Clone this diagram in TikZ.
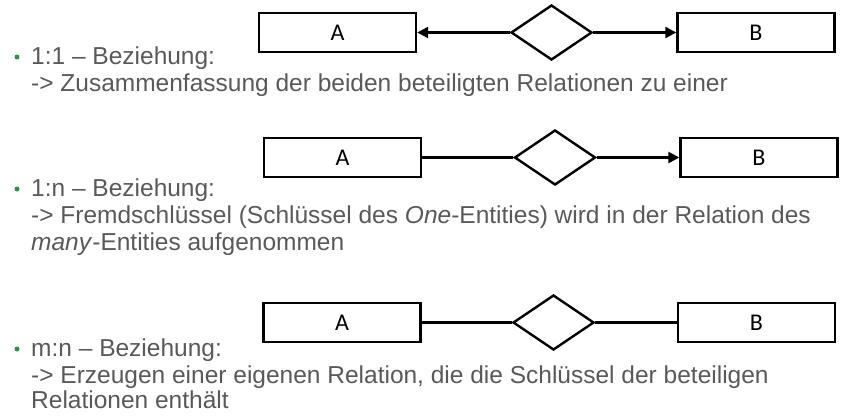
\documentclass[tikz,border=0pt]{standalone}
\usepackage{fontspec}
\setmainfont{Liberation Sans}
\newfontfamily\labelfont{Carlito}
\usepackage{tikz}
\usetikzlibrary{arrows.meta,shapes.geometric}
\definecolor{slidegray}{RGB}{89,89,89}
\definecolor{slidegreen}{RGB}{40,150,60}

\tikzset{
  entity/.style={draw, line width=2.4pt, minimum width=157pt, minimum height=39pt,
    inner sep=0pt, font=\labelfont\fontsize{24}{28}\selectfont},
  relship/.style={draw, diamond, line width=2.4pt, minimum width=81pt,
    minimum height=55pt, inner sep=0pt},
  link/.style={line width=2.4pt},
  onearrow/.style={link, -{Triangle[length=11pt,width=11pt]}},
  itemtext/.style={anchor=base west, inner sep=0pt, text=slidegray,
    font=\fontsize{24.5}{27}\selectfont},
  bulletmark/.style={circle, fill=slidegreen, minimum size=5pt, inner sep=0pt}
}

\begin{document}
\begin{tikzpicture}[x=1pt,y=-1pt]
\useasboundingbox (0,0) rectangle (850,416);

% 1:1
\node[entity] (a1) at (337.5,32.5) {A};
\node[relship] (r1) at (551.5,32.5) {};
\node[entity] (b1) at (756,32.5) {B};
\draw[onearrow] (r1.west) -- (a1.east);
\draw[onearrow] (r1.east) -- (b1.west);
\node[bulletmark] (dot1) at (17,57) {};
\node[itemtext] (head1) at (31,64) {1:1 – Beziehung:};
\node[itemtext] (desc1) at (31,91) {-> Zusammenfassung der beiden beteiligten Relationen zu einer};

% 1:n
\node[entity] (a2) at (342.5,157.5) {A};
\node[relship] (r2) at (555,157.5) {};
\node[entity] (b2) at (759,157.5) {B};
\draw[link] (a2.east) -- (r2.west);
\draw[onearrow] (r2.east) -- (b2.west);
\node[bulletmark] (dot2) at (17,189) {};
\node[itemtext] (head2) at (31,196) {1:n – Beziehung:};
\node[itemtext] (desc2) at (31,223) {-> Fremdschlüssel (Schlüssel des \textit{One}-Entities) wird in der Relation des};
\node[itemtext] (desc2b) at (31,250) {\textit{many}-Entities aufgenommen};

% m:n
\node[entity] (a3) at (342,322.5) {A};
\node[relship] (r3) at (553.5,322.5) {};
\node[entity] (b3) at (756.5,322.5) {B};
\draw[link] (a3.east) -- (r3.west);
\draw[link] (r3.east) -- (b3.west);
\node[bulletmark] (dot3) at (17,349) {};
\node[itemtext] (head3) at (31,356) {m:n – Beziehung:};
\node[itemtext] (desc3) at (31,383) {-> Erzeugen einer eigenen Relation, die die Schlüssel der beteiligen};
\node[itemtext] (desc3b) at (31,408) {Relationen enthält};
\end{tikzpicture}
\end{document}
